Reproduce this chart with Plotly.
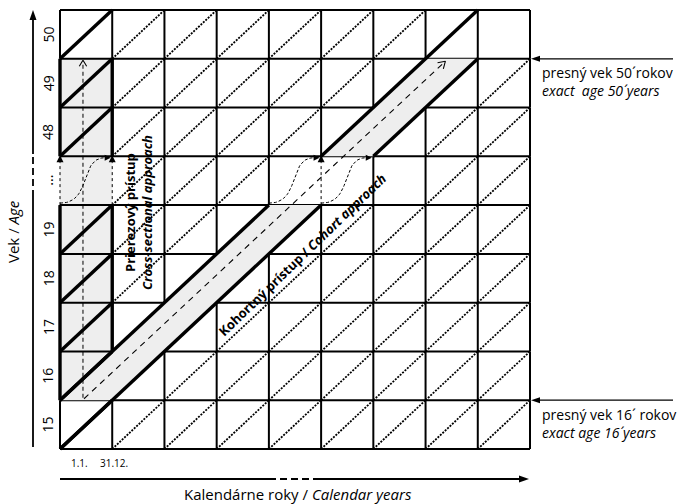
import math
import plotly.graph_objects as go

# ---------------- data ----------------
calendar_years = [1, 2, 3, 4, 5, 6, 7, 8, 9]                 # unlabeled calendar-year columns
age_labels = ["15", "16", "17", "18", "19", "...", "48", "49", "50"]   # age rows, bottom -> top
date_labels = ["1.1.", "31.12."]
cross_year_index = 0          # calendar year followed in the cross-sectional approach
cohort_entry_age = "16"       # cohort followed from exact age 16 ...
cohort_exit_age = "50"        # ... to exact age 50
x_title = "Kalendárne roky / <i>Calendar years</i>"
y_title = "Vek / <i>Age</i>"
exact_age_notes = [("50", "presný vek 50´rokov", "exact\u00a0\u00a0age 50´ years"),
                   ("16", "presný vek 16´ rokov", "exact age 16´ years")]
cross_text = ["<b>Prierezový prístup</b>", "<b><i>Cross-sectional approach</i></b>"]
cohort_text = "<b>Kohortný prístup / <i>Cohort approach</i></b>"

# ---------------- geometry ----------------
W, H = 700, 504
GL, GR, GT, GB = 60, 530, 10, 449
nx, ny = len(calendar_years), len(age_labels)
cw, ch = (GR - GL) / nx, (GB - GT) / ny
def X(px): return (px - GL) / cw
def Y(py): return (GB - py) / ch

brk = age_labels.index("...")
r_in = age_labels.index(cohort_entry_age)
r_out = age_labels.index(cohort_exit_age)
c0 = cross_year_index
FONT = "Open Sans"
GREY = "#eeeeee"

fig = go.Figure()

def segs_to_xy(segs):
    xs, ys = [], []
    for (a, b) in segs:
        xs += [a[0], b[0], None]
        ys += [a[1], b[1], None]
    return xs, ys

def add_segs(segs, width, dash=None, color="black"):
    xs, ys = segs_to_xy(segs)
    fig.add_trace(go.Scatter(x=xs, y=ys, mode="lines", hoverinfo="skip",
                             line=dict(color=color, width=width, dash=dash)))

def add_poly(pts, color):
    xs = [p[0] for p in pts] + [pts[0][0]]
    ys = [p[1] for p in pts] + [pts[0][1]]
    fig.add_trace(go.Scatter(x=xs, y=ys, mode="lines", fill="toself", fillcolor=color,
                             line=dict(width=0, color=color), hoverinfo="skip"))

def tri_px(tip, d, length, half):
    tx, ty = tip
    bx, by = tx - d[0] * length, ty - d[1] * length
    nxv, nyv = -d[1], d[0]
    pts = [(tx, ty), (bx + nxv * half, by + nyv * half), (bx - nxv * half, by - nyv * half)]
    add_poly([(X(p[0]), Y(p[1])) for p in pts], "black")

def chevron_px(tip, d, length, ang, width=1.1):
    tx, ty = tip
    segs = []
    for s in (1, -1):
        a = math.radians(ang) * s
        rx = d[0] * math.cos(a) - d[1] * math.sin(a)
        ry = d[0] * math.sin(a) + d[1] * math.cos(a)
        segs.append(((X(tx), Y(ty)), (X(tx - rx * length), Y(ty - ry * length))))
    add_segs(segs, width)

# 1. cross-sectional shaded column
add_poly([(c0, r_in), (c0 + 1, r_in), (c0 + 1, r_out), (c0, r_out)], GREY)

# 2. thin grid
dashed_edges = {(c0, brk), (c0 + 1, brk), (c0 + 5, brk)}
thin = []
for j in range(ny + 1):
    thin.append(((0, j), (nx, j)))
for i in range(nx + 1):
    for r in range(ny):
        if (i, r) in dashed_edges:
            continue
        thin.append(((i, r), (i, r + 1)))
add_segs(thin, 2)

# 3. dotted diagonals (one per cell)
no_diag = {(c0, brk), (c0 + 5, brk), (c0 + 6, brk)}
dots = []
for c in range(nx):
    for r in range(ny):
        if (c, r) in no_diag or c == c0 or c - r in (c0, c0 - 1):
            continue
        dots.append(((c, r), (c + 1, r + 1)))
add_segs(dots, 1.8, dash="2px,1.3px")

# 4. cohort band
add_poly([(c0, r_in), (c0 + 1, r_in), (c0 + brk, brk), (c0 + brk - 1, brk)], GREY)
add_poly([(c0 + brk, brk + 1), (c0 + brk + 1, brk + 1), (c0 + r_out, r_out), (c0 + r_out - 1, r_out)], GREY)

# 5. thick lines
thick = []
for r in range(ny):
    if r != brk:
        thick.append(((c0, r), (c0 + 1, r + 1)))
thick += [((c0, r_in), (c0 + brk - 1, brk)), ((c0 + brk, brk + 1), (c0 + ny - 1, ny))]
thick += [((c0, 0), (c0 + brk, brk)), ((c0 + brk + 1, brk + 1), (c0 + r_out, r_out))]
thick += [((c0, r_in), (c0, brk)), ((c0, brk + 1), (c0, r_out))]
thick += [((c0 + 1, r_in + 1), (c0 + 1, brk)), ((c0 + 1, brk + 1), (c0 + 1, r_out))]
add_segs(thick, 3.4)

# 6. dashed arrows
xa = c0 + 0.44
add_segs([((xa, r_in + 0.05), (xa, r_out - 0.06))], 1, dash="4px,3px")
chevron_px((GL + xa * cw, GB - (r_out - 0.03) * ch), (0, -1), 7, 32)
off = 0.57
add_segs([((c0 + r_in - off + 0.03, r_in + 0.03), (c0 + r_out - off - 0.08, r_out - 0.08))], 1.1, dash="6px,5px")
dd = (cw / math.hypot(cw, ch), -ch / math.hypot(cw, ch))
chevron_px((GL + (c0 + r_out - off - 0.05) * cw, GB - (r_out - 0.05) * ch), dd, 8, 32)

# break-row dashed verticals with arrowheads
vsegs = []
for (i, r) in sorted(dashed_edges):
    vsegs.append(((i, r), (i, r + 1 - 0.12)))
add_segs(vsegs, 1, dash="3px,3px")
for (i, r) in sorted(dashed_edges):
    tri_px((GL + i * cw, GB - (r + 1) * ch - 1), (0, -1), 7, 3.5)

# wavy transitions across the break row
def bezier(p0, p1, p2, p3, n=40):
    pts = []
    for k in range(n + 1):
        t = k / n
        a, b, c, d = (1 - t) ** 3, 3 * (1 - t) ** 2 * t, 3 * (1 - t) * t ** 2, t ** 3
        pts.append((a * p0[0] + b * p1[0] + c * p2[0] + d * p3[0],
                    a * p0[1] + b * p1[1] + c * p2[1] + d * p3[1]))
    return pts

for x0 in (c0, c0 + 4, c0 + 5):
    y0, y1 = brk + 0.04, brk + 0.97
    pts = bezier((x0, y0), (x0 + 0.62, y0), (x0 + 0.36, y1), (x0 + 0.86, y1))
    fig.add_trace(go.Scatter(x=[p[0] for p in pts], y=[p[1] for p in pts], mode="lines",
                             hoverinfo="skip", line=dict(color="black", width=1, dash="3px,2px")))
    tri_px((GL + (x0 + 0.97) * cw, GB - y1 * ch), (1, 0), 6, 3)

# ---------------- axes (arrows) ----------------
ax_x = 33
add_segs([((X(ax_x), Y(447)), (X(ax_x), Y(197))), ((X(ax_x), Y(154)), (X(ax_x), Y(19)))], 1.8)
add_segs([((X(ax_x), Y(197)), (X(ax_x), Y(154)))], 1.8, dash="7px,4px")
tri_px((ax_x, 10), (0, -1), 10, 3.5)
ax_y = 479
add_segs([((X(60), Y(ax_y)), (X(269), Y(ax_y))), ((X(320), Y(ax_y)), (X(520), Y(ax_y)))], 1.8)
add_segs([((X(269), Y(ax_y)), (X(320), Y(ax_y)))], 1.8, dash="7px,4px")
tri_px((529, ax_y), (1, 0), 10, 3.5)

# exact-age pointers
for (age, _, _) in exact_age_notes:
    yv = age_labels.index(age)
    py = GB - yv * ch
    add_segs([((X(539), yv), (X(673), yv))], 1.3)
    tri_px((531, py), (-1, 0), 9, 3)

# ---------------- text ----------------
ann = []
for r, lab in enumerate(age_labels):
    ann.append(dict(x=X(48), y=r + 0.5, text=lab, textangle=-90, showarrow=False,
                    font=dict(size=14, family=FONT, color="black")))
ann.append(dict(x=X(13), y=Y(232), text=y_title, textangle=-90, showarrow=False,
                font=dict(size=15, family=FONT, color="black")))
ann.append(dict(x=X(298), y=Y(494), text=x_title, showarrow=False,
                font=dict(size=15, family=FONT, color="black")))
for lab, cx in zip(date_labels, (79, 114)):
    ann.append(dict(x=X(cx), y=Y(463), text=lab, showarrow=False,
                    font=dict(size=10, family=FONT, color="#000000")))
for (age, sk, en) in exact_age_notes:
    yv = age_labels.index(age)
    py = GB - yv * ch
    ann.append(dict(x=X(540), y=Y(py + 14), text=sk, showarrow=False, xanchor="left",
                    font=dict(size=14, family=FONT, color="black")))
    ann.append(dict(x=X(540), y=Y(py + 32), text="<i>" + en + "</i>", showarrow=False, xanchor="left",
                    font=dict(size=14, family=FONT, color="black")))
for t, cx in zip(cross_text, (130, 147)):
    ann.append(dict(x=X(cx), y=Y(213), text=t, textangle=-90, showarrow=False,
                    font=dict(size=13, family=FONT, color="black")))
ann.append(dict(x=X(302), y=Y(255), text=cohort_text, textangle=-44, showarrow=False,
                font=dict(size=13, family=FONT, color="black")))

fig.update_layout(
    width=W, height=H, margin=dict(l=0, r=0, t=0, b=0),
    paper_bgcolor="white", plot_bgcolor="white", showlegend=False,
    xaxis=dict(range=[X(0), X(W)], visible=False, fixedrange=True),
    yaxis=dict(range=[Y(H), Y(0)], visible=False, fixedrange=True),
    annotations=ann,
)
fig.write_html("out.html", config={"displayModeBar": False},
               post_script="document.body.style.margin='0px';document.body.style.overflow='hidden';")
